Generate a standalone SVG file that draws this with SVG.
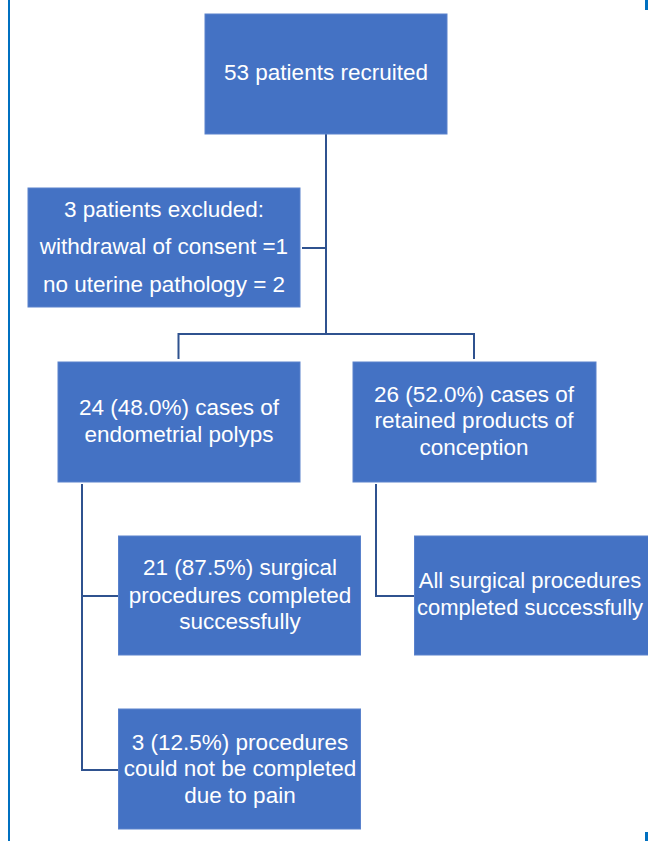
<svg xmlns="http://www.w3.org/2000/svg" width="648" height="841" viewBox="0 0 648 841">
<style>
.box{fill:#4472c4;stroke:#5a82cc;stroke-width:1}
.t{font-family:"Liberation Sans",Arial,sans-serif;font-size:22.5px;fill:#ffffff;text-anchor:middle}
.c{fill:none;stroke:#2f528f;stroke-width:2}
.frame{fill:#0070c0}
</style>
<rect width="648" height="841" fill="#ffffff"/>
<rect class="frame" x="8" y="0" width="2" height="841"/>
<rect class="frame" x="645" y="0" width="3" height="10"/>
<rect class="frame" x="645" y="832" width="3" height="9"/>
<g id="connectors">
<path class="c" d="M326 134 V334"/>
<path class="c" d="M302 248 H326"/>
<path class="c" d="M178.5 359 V334 H474 V359"/>
<path class="c" d="M82 484 V770 H118"/>
<path class="c" d="M82 596 H118"/>
<path class="c" d="M376 484 V596 H414"/>
</g>
<g id="recruited">
<rect class="box" x="205" y="14" width="242" height="120"/>
<text class="t" x="326" y="80">53 patients recruited</text>
</g>
<g id="excluded">
<rect class="box" x="28" y="188" width="272" height="119"/>
<text class="t" x="164" y="217">3 patients excluded:</text>
<text class="t" x="164" y="254">withdrawal of consent =1</text>
<text class="t" x="164" y="292">no uterine pathology = 2</text>
</g>
<g id="polyps">
<rect class="box" x="58" y="362" width="242" height="120"/>
<text class="t" x="179" y="415">24 (48.0%) cases of</text>
<text class="t" x="179" y="442">endometrial polyps</text>
</g>
<g id="retained">
<rect class="box" x="353" y="362" width="243" height="120"/>
<text class="t" x="474" y="402">26 (52.0%) cases of</text>
<text class="t" x="474" y="428">retained products of</text>
<text class="t" x="474" y="455">conception</text>
</g>
<g id="completed21">
<rect class="box" x="118.5" y="536" width="242" height="119"/>
<text class="t" x="240" y="575">21 (87.5%) surgical</text>
<text class="t" x="240" y="603">procedures completed</text>
<text class="t" x="240" y="629">successfully</text>
</g>
<g id="allcompleted">
<rect class="box" x="414.5" y="536" width="242" height="119"/>
<text class="t" x="530" y="588" style="font-size:22px">All surgical procedures</text>
<text class="t" x="530" y="615" style="font-size:22px">completed successfully</text>
</g>
<g id="notcompleted">
<rect class="box" x="118.5" y="709" width="242" height="120"/>
<text class="t" x="240" y="750">3 (12.5%) procedures</text>
<text class="t" x="240" y="776">could not be completed</text>
<text class="t" x="240" y="803">due to pain</text>
</g>
</svg>
